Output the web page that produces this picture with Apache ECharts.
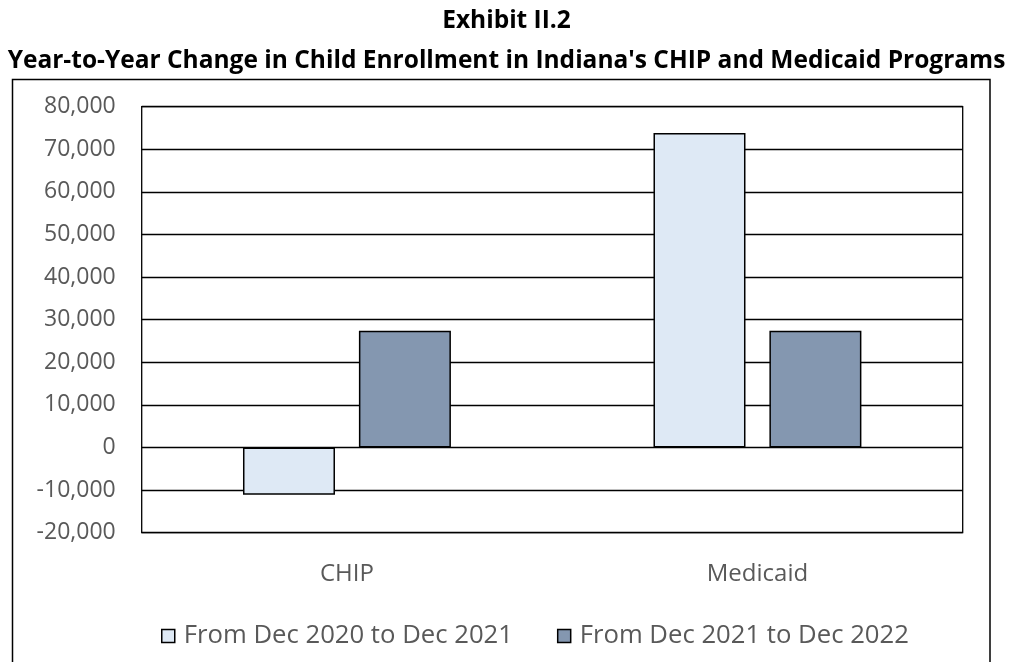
<!DOCTYPE html>
<html>
<head>
<meta charset="utf-8">
<script src="https://cdn.jsdelivr.net/npm/echarts@6/dist/echarts.min.js"></script>
<style>
  html, body { margin: 0; padding: 0; background: #fff; }
  #chart { width: 1024px; height: 662px; }
</style>
</head>
<body>
<div id="chart"></div>
<script>
// Programs on the category axis
const categories = ['CHIP', 'Medicaid'];
// Year-to-year change in child enrollment
const change2020to2021 = [-11100, 73800];
const change2021to2022 = [27400, 27400];
const seriesNames = ['From Dec 2020 to Dec 2021', 'From Dec 2021 to Dec 2022'];

const FONT = '"Open Sans", "Liberation Sans", sans-serif';
const LABEL_COLOR = '#595959';

const chart = echarts.init(document.getElementById('chart'), null, { renderer: 'canvas' });

chart.setOption({
  animation: false,
  backgroundColor: '#fff',
  textStyle: { fontFamily: FONT },
  title: [
    {
      text: 'Exhibit II.2',
      left: 506.5,
      textAlign: 'center',
      top: 4,
      padding: 0,
      textStyle: { fontFamily: FONT, fontWeight: 'bold', fontSize: 24.5, color: '#000', lineHeight: 34 }
    },
    {
      text: "Year-to-Year Change in Child Enrollment in Indiana's CHIP and Medicaid Programs",
      left: 506.5,
      textAlign: 'center',
      top: 44,
      padding: 0,
      textStyle: { fontFamily: FONT, fontWeight: 'bold', fontSize: 24.5, color: '#000', lineHeight: 34 }
    }
  ],
  graphic: [
    {
      // outer chart frame (runs past the bottom edge)
      type: 'rect',
      shape: { x: 12.5, y: 79.5, width: 977.5, height: 600 },
      style: { fill: 'none', stroke: '#000', lineWidth: 1.5 },
      z: -1
    }
  ],
  grid: {
    left: 141.7,
    top: 106.7,
    right: 61.3,
    bottom: 129.3,
    show: true,
    borderColor: '#000',
    borderWidth: 1.3
  },
  legend: {
    data: seriesNames,
    top: 623,
    left: 161,
    icon: 'rect',
    itemWidth: 13,
    itemHeight: 13,
    itemGap: 44,
    padding: 0,
    itemStyle: { borderColor: '#000', borderWidth: 1.5 },
    textStyle: { fontFamily: FONT, fontSize: 25.7, color: LABEL_COLOR, padding: [0, 0, 0, 4] }
  },
  xAxis: {
    type: 'category',
    data: categories,
    axisLine: { show: false, onZero: false },
    axisTick: { show: false },
    axisLabel: { fontFamily: FONT, fontSize: 24, color: LABEL_COLOR, margin: 29 }
  },
  yAxis: {
    type: 'value',
    min: -20000,
    max: 80000,
    interval: 10000,
    axisLine: { show: false },
    axisTick: { show: false },
    splitLine: { show: true, lineStyle: { color: '#000', width: 1.3 } },
    axisLabel: {
      fontFamily: FONT,
      fontSize: 23,
      color: LABEL_COLOR,
      margin: 26,
      formatter: v => v.toLocaleString('en-US')
    }
  },
  series: [
    {
      name: seriesNames[0],
      type: 'bar',
      data: change2020to2021,
      barWidth: 92,
      barGap: '26%',
      itemStyle: { color: '#DEE9F5', borderColor: '#000', borderWidth: 1.5 }
    },
    {
      name: seriesNames[1],
      type: 'bar',
      data: change2021to2022,
      barWidth: 92,
      barGap: '26%',
      itemStyle: { color: '#8497B0', borderColor: '#000', borderWidth: 1.5 }
    }
  ]
});
</script>
</body>
</html>
